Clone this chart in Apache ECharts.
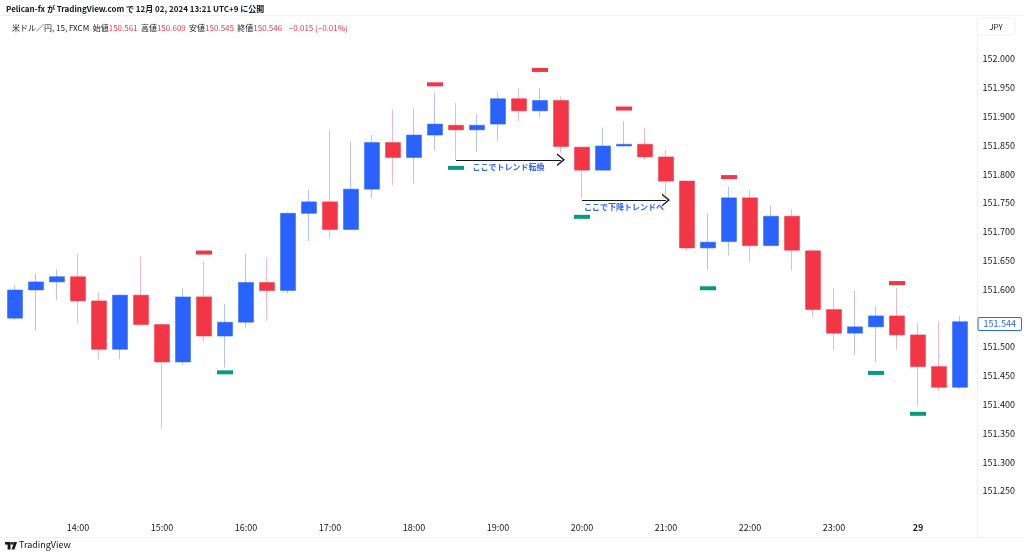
<!DOCTYPE html>
<html>
<head>
<meta charset="utf-8">
<script src="https://cdn.jsdelivr.net/npm/echarts@6/dist/echarts.min.js"></script>
<style>
html,body{margin:0;padding:0;background:#fff;}
#chart{width:1024px;height:558px;}
</style>
</head>
<body>
<div id="chart"></div>
<script>
// ---- data ----
const times = ['13:15','13:30','13:45','14:00','14:15','14:30','14:45','15:00','15:15','15:30','15:45',
  '16:00','16:15','16:30','16:45','17:00','17:15','17:30','17:45','18:00','18:15','18:30','18:45',
  '19:00','19:15','19:30','19:45','20:00','20:15','20:30','20:45','21:00','21:15','21:30','21:45',
  '22:00','22:15','22:30','22:45','23:00','23:15','23:30','23:45','00:00','00:15','00:30'];
const opens  = [151.550,151.599,151.613,151.622,151.580,151.496,151.590,151.539,151.474,151.587,151.519,
  151.543,151.612,151.598,151.732,151.752,151.704,151.774,151.855,151.829,151.868,151.885,151.877,
  151.887,151.931,151.910,151.928,151.847,151.807,151.849,151.852,151.830,151.788,151.672,151.683,
  151.759,151.676,151.727,151.667,151.565,151.524,151.535,151.554,151.521,151.466,151.430];
const highs  = [151.608,151.628,151.635,151.661,151.595,151.591,151.657,151.540,151.603,151.648,151.575,
  151.661,151.654,151.734,151.773,151.877,151.856,151.868,151.913,151.914,151.942,151.924,151.905,
  151.942,151.948,151.949,151.935,151.848,151.881,151.892,151.881,151.842,151.789,151.732,151.778,
  151.773,151.745,151.739,151.668,151.602,151.598,151.571,151.602,151.542,151.544,151.554];
const lows   = [151.547,151.528,151.582,151.541,151.479,151.479,151.538,151.358,151.469,151.509,151.464,
  151.534,151.545,151.593,151.684,151.689,151.704,151.758,151.781,151.784,151.841,151.825,151.839,
  151.858,151.892,151.899,151.837,151.758,151.807,151.847,151.825,151.764,151.667,151.634,151.659,
  151.647,151.676,151.633,151.553,151.494,151.486,151.474,151.495,151.398,151.424,151.427];
const closes = [151.599,151.613,151.622,151.580,151.496,151.590,151.539,151.474,151.587,151.519,151.543,
  151.612,151.598,151.732,151.752,151.704,151.774,151.855,151.829,151.868,151.887,151.877,151.885,
  151.931,151.910,151.928,151.848,151.807,151.849,151.852,151.830,151.788,151.672,151.682,151.759,
  151.676,151.727,151.668,151.565,151.524,151.535,151.554,151.521,151.466,151.430,151.544];
const swingHighs = [['15:30',151.664],['18:15',151.956],['19:30',151.981],['20:30',151.914],['21:45',151.795],['23:45',151.611]];
const swingLows  = [['15:45',151.456],['18:30',151.811],['20:00',151.726],['21:30',151.602],['23:30',151.455],['00:00',151.384]];
const lastPrice = 151.544;
const arrow1 = { from: ['18:30', 151.825], to: ['19:45', 151.825], text: 'ここでトレンド転換' };
const arrow2 = { from: ['20:00', 151.755], to: ['21:00', 151.755], text: 'ここで下降トレンドへ' };
const headerLine1 = 'Pelican-fx が TradingView.com で 12月 02, 2024 13:21 UTC+9 に公開';
const symbolName = '米ドル／円, 15, FXCM';
const hdrOpen = '150.561', hdrHigh = '150.609', hdrLow = '150.545', hdrClose = '150.546', hdrChg = '−0.015 (−0.01%)';

// ---- build ----
const full = times.map((t,i)=>[opens[i], closes[i], lows[i], highs[i]]);
const bodies = times.map((t,i)=>[opens[i], closes[i], Math.min(opens[i],closes[i]), Math.max(opens[i],closes[i])]);
const UP = '#2962ff', DOWN = '#f23645', GREEN = '#089981';
const FONT = '"Noto Sans CJK JP", "Noto Sans", sans-serif';

const chart = echarts.init(document.getElementById('chart'), null, {renderer:'canvas'});
const chevron = 'path://M0,8 L6.5,0 L13,8 L11.3,8 L6.5,2.2 L1.7,8 Z';

function arrowPair(a){
  return [
    {coord: a.from, name: a.text, symbol: 'none'},
    {coord: a.to, symbol: chevron}
  ];
}

chart.setOption({
  backgroundColor: '#ffffff',
  animation: false,
  textStyle: {fontFamily: FONT},
  grid: {left: 4.5, right: 53.5, top: 30.2, bottom: 38.2},
  xAxis: {
    type: 'category',
    data: times,
    boundaryGap: true,
    axisLine: {show: false},
    axisTick: {show: false},
    splitLine: {show: false},
    axisLabel: {
      interval: (idx, val) => val.endsWith(':00'),
      formatter: v => v === '00:00' ? '{b|29}' : v,
      color: '#131722', fontSize: 9, margin: 3, fontFamily: FONT,
      rich: {b: {fontWeight: 'bold', fontSize: 9, color: '#131722'}}
    }
  },
  yAxis: {
    type: 'value',
    position: 'right',
    min: 151.2, max: 152.05, interval: 0.05,
    scale: true,
    axisLine: {show: false},
    axisTick: {show: false},
    splitLine: {show: false},
    axisLabel: {
      showMinLabel: false, showMaxLabel: false,
      formatter: v => Math.abs(v - lastPrice) < 0.015 ? '' : v.toFixed(3),
      color: '#131722', fontSize: 9, margin: 12, fontFamily: FONT
    }
  },
  series: [
    {
      name: 'wick', type: 'candlestick', data: full, barWidth: 1,
      itemStyle: {color: '#7f9bee', color0: '#ec8894', borderColor: '#7f9bee', borderColor0: '#ec8894', borderWidth: 0.6},
      markLine: {
        silent: true, animation: false,
        symbolSize: [13, 8],
        lineStyle: {color: '#131722', width: 1.2, type: 'solid'},
        label: {show: true, position: 'insideMiddleBottom', formatter: '{b}', color: '#2962ff', fontSize: 8, fontWeight: 'bold', distance: 3, fontFamily: FONT},
        data: [arrowPair(arrow1), arrowPair(arrow2)]
      }
    },
    {
      name: 'body', type: 'candlestick', data: bodies, barWidth: 16,
      itemStyle: {color: UP, color0: DOWN, borderColor: UP, borderColor0: DOWN, borderWidth: 0.5},
      markLine: {
        silent: true, animation: false, symbol: 'none',
        lineStyle: {color: 'rgba(0,0,0,0)', width: 0},
        label: {show: true, position: 'end', formatter: () => lastPrice.toFixed(3), color: UP, fontSize: 9,
          backgroundColor: '#fff', borderColor: UP, borderWidth: 1, borderRadius: 1, padding: [2,5,1,5], distance: 8, fontFamily: FONT},
        data: [{yAxis: lastPrice}]
      }
    },
    {
      name: 'swingHigh', type: 'scatter', data: swingHighs, symbol: 'rect', symbolSize: [16, 4],
      itemStyle: {color: DOWN, opacity: 1}, z: 3
    },
    {
      name: 'swingLow', type: 'scatter', data: swingLows, symbol: 'rect', symbolSize: [16, 4],
      itemStyle: {color: GREEN, opacity: 1}, z: 3
    }
  ],
  graphic: [
    {type: 'line', shape: {x1: 0, y1: 15.5, x2: 1024, y2: 15.5}, style: {stroke: '#eef0f4', lineWidth: 1}, silent: true},
    {type: 'line', shape: {x1: 977.5, y1: 16, x2: 977.5, y2: 537}, style: {stroke: '#eef0f4', lineWidth: 1}, silent: true},
    {type: 'line', shape: {x1: 0, y1: 537.5, x2: 1024, y2: 537.5}, style: {stroke: '#eef0f4', lineWidth: 1}, silent: true},
    {type: 'text', left: 6, top: 5, style: {text: headerLine1, font: '600 8px ' + FONT, fill: '#131722'}},
    {type: 'text', left: 12, top: 22, style: {
      text: '{l|' + symbolName + '  始値}{v|' + hdrOpen + '} {l|高値}{v|' + hdrHigh + '} {l|安値}{v|' + hdrLow + '} {l|終値}{v|' + hdrClose + '}  {v|' + hdrChg + '}',
      rich: {l: {fontSize: 8, fill: '#131722', fontFamily: FONT}, v: {fontSize: 8, fill: '#f23645', fontFamily: FONT}}
    }},
    {type: 'rect', shape: {x: 977, y: 18, width: 38, height: 17, r: 2}, style: {fill: '#fff', stroke: '#eef0f4', lineWidth: 1}},
    {type: 'text', x: 996, y: 26.5, style: {text: 'JPY', font: '8px ' + FONT, fill: '#131722', align: 'center', verticalAlign: 'middle'}},
    {type: 'group', children: [
      {type: 'rect', shape: {x: 5, y: 542, width: 5.5, height: 2.6}, style: {fill: '#131722'}},
      {type: 'rect', shape: {x: 7.6, y: 542, width: 2.9, height: 7.5}, style: {fill: '#131722'}},
      {type: 'circle', shape: {cx: 12.4, cy: 543.4, r: 1.4}, style: {fill: '#131722'}},
      {type: 'polygon', shape: {points: [[14.2,542],[17,542],[14.4,549.5],[11.6,549.5]]}, style: {fill: '#131722'}},
      {type: 'text', left: 19, top: 540, style: {text: 'TradingView', font: '9px ' + FONT, fill: '#131722'}}
    ]}
  ]
});
</script>
</body>
</html>
